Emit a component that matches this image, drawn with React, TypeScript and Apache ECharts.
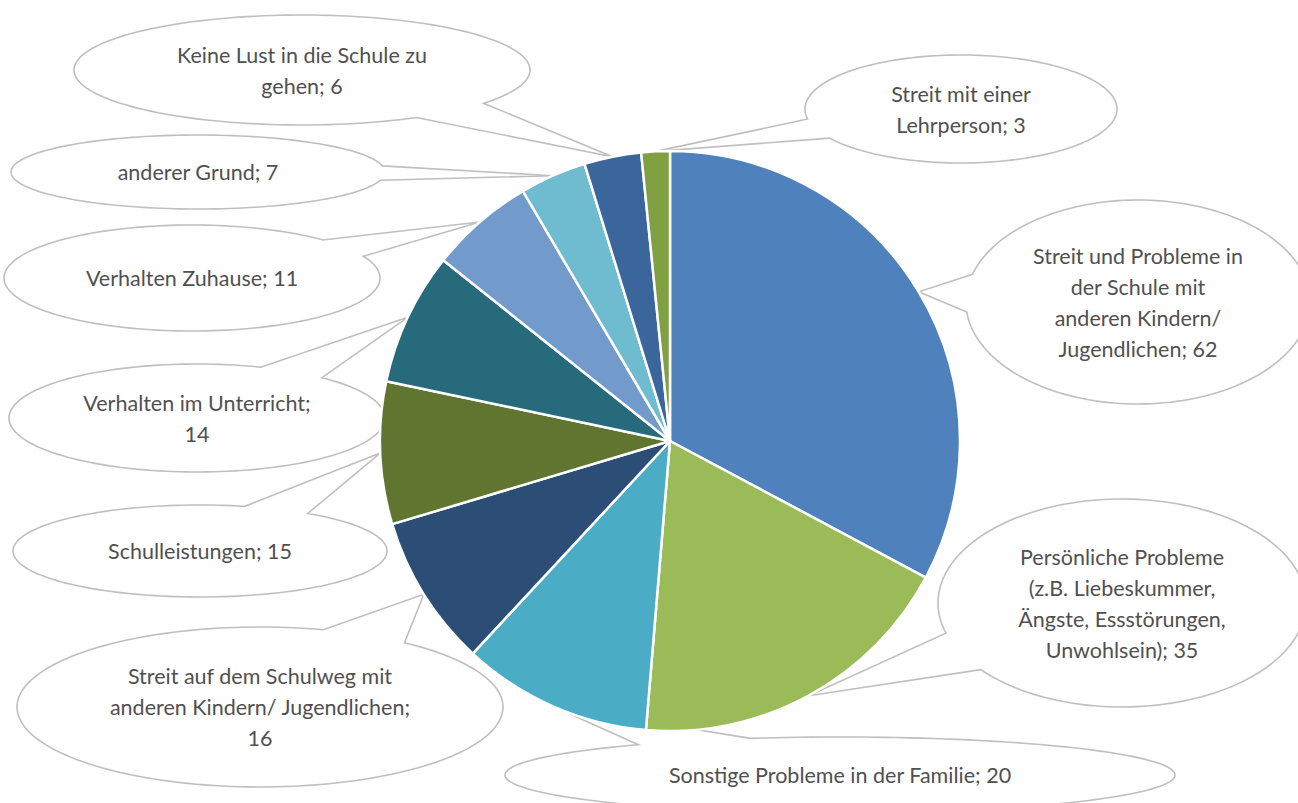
import React, { useEffect, useRef } from "react";
import * as echarts from "echarts";

// ---- data ----
const categories = [
  "Streit und Probleme in der Schule mit anderen Kindern/ Jugendlichen",
  "Persönliche Probleme (z.B. Liebeskummer, Ängste, Essstörungen, Unwohlsein)",
  "Sonstige Probleme in der Familie",
  "Streit auf dem Schulweg mit anderen Kindern/ Jugendlichen",
  "Schulleistungen",
  "Verhalten im Unterricht",
  "Verhalten Zuhause",
  "anderer Grund",
  "Keine Lust in die Schule zu gehen",
  "Streit mit einer Lehrperson",
];
const values = [62, 35, 20, 16, 15, 14, 11, 7, 6, 3];
const colors = [
  "#4F81BD", "#9BBB59", "#4BACC6", "#2C4D75", "#5F7530",
  "#276A7C", "#729ACA", "#6FBBD0", "#3A669B", "#80A042",
];
// wrapped label text (same words as categories, with line breaks as in the picture)
const wrappedNames = [
  "Streit und Probleme in\nder Schule mit\nanderen Kindern/\nJugendlichen",
  "Persönliche Probleme\n(z.B. Liebeskummer,\nÄngste, Essstörungen,\nUnwohlsein)",
  "Sonstige Probleme in der Familie",
  "Streit auf dem Schulweg mit\nanderen Kindern/ Jugendlichen",
  "Schulleistungen",
  "Verhalten im Unterricht",
  "Verhalten Zuhause",
  "anderer Grund",
  "Keine Lust in die Schule zu\ngehen",
  "Streit mit einer\nLehrperson",
];
const separators = ["; ", "; ", "; ", ";\n", "; ", ";\n", "; ", "; ", "; ", "; "];

// ---- layout (callout bubbles) ----
const PIE_CX = 670;
const PIE_CY = 441;
const PIE_R = 290;
const bubbles = [
  { cx: 1138, cy: 302, rx: 172, ry: 102, b1: [971, 274], b2: [967, 312] },
  { cx: 1122, cy: 603, rx: 184, ry: 104, b1: [947, 633], b2: [982, 669] },
  { cx: 840, cy: 775, rx: 335, ry: 38, b1: [747, 737], b2: [634, 744] },
  { cx: 260, cy: 707, rx: 243, ry: 80, b1: [324, 629], b2: [406, 642] },
  { cx: 200, cy: 551, rx: 187, ry: 46, b1: [245, 506], b2: [309, 513] },
  { cx: 197, cy: 418, rx: 188, ry: 54, b1: [261, 367], b2: [324, 377] },
  { cx: 192, cy: 278, rx: 188, ry: 53, b1: [326, 239], b2: [365, 256] },
  { cx: 198, cy: 172, rx: 187, ry: 37, b1: [378, 166], b2: [375, 180] },
  { cx: 302, cy: 70, rx: 228, ry: 55, b1: [482, 103], b2: [415, 117] },
  { cx: 961, cy: 109, rx: 156, ry: 54, b1: [808, 119], b2: [830, 138] },
];

function calloutPoints(i: number, total: number, cumBefore: number) {
  const b = bubbles[i];
  const f = (cumBefore + values[i] / 2) / total;
  const th = f * Math.PI * 2;
  const tip = [PIE_CX + PIE_R * Math.sin(th), PIE_CY - PIE_R * Math.cos(th)];
  const t1 = Math.atan2((b.b1[1] - b.cy) / b.ry, (b.b1[0] - b.cx) / b.rx);
  const t2 = Math.atan2((b.b2[1] - b.cy) / b.ry, (b.b2[0] - b.cx) / b.rx);
  let d = t2 - t1;
  while (d > Math.PI) d -= Math.PI * 2;
  while (d <= -Math.PI) d += Math.PI * 2;
  let start: number, end: number;
  if (d > 0) {
    start = t1 + d;
    end = t1 + Math.PI * 2;
  } else {
    start = t1;
    end = t1 + d + Math.PI * 2;
  }
  const pts: number[][] = [];
  const n = 160;
  for (let k = 0; k <= n; k++) {
    const t = start + ((end - start) * k) / n;
    pts.push([b.cx + b.rx * Math.cos(t), b.cy + b.ry * Math.sin(t)]);
  }
  pts.push(tip);
  return pts;
}

export default function App() {
  const ref = useRef<HTMLDivElement>(null);
  useEffect(() => {
    if (!ref.current) return;
    const chart = echarts.init(ref.current, undefined, { renderer: "svg" });
    const total = values.reduce((a, b) => a + b, 0);
    let cum = 0;
    const graphics: any[] = [];
    values.forEach((v, i) => {
      graphics.push({
        type: "polygon",
        z: 0,
        shape: { points: calloutPoints(i, total, cum) },
        style: { fill: "#ffffff", stroke: "#BFBFBF", lineWidth: 1.6 },
      });
      cum += v;
    });
    chart.setOption({
      animation: false,
      backgroundColor: "#ffffff",
      graphic: graphics,
      series: [
        {
          type: "pie",
          center: [PIE_CX, PIE_CY],
          radius: PIE_R,
          startAngle: 90,
          clockwise: true,
          avoidLabelOverlap: false,
          z: 2,
          itemStyle: { borderColor: "#ffffff", borderWidth: 2.5 },
          label: {
            show: true,
            position: "inside",
            color: "#505050",
            fontFamily: "Lato, 'Noto Sans', sans-serif",
            fontSize: 21.5,
            lineHeight: 31,
            align: "center",
            overflow: "none",
            formatter: (p: any) =>
              wrappedNames[p.dataIndex] + separators[p.dataIndex] + p.value,
          },
          labelLine: { show: false },
          labelLayout: (p: any) => ({
            x: bubbles[p.dataIndex].cx,
            y: bubbles[p.dataIndex].cy,
            align: "center",
            verticalAlign: "middle",
          }),
          emphasis: { disabled: true },
          data: categories.map((c, i) => ({
            name: c,
            value: values[i],
            itemStyle: { color: colors[i] },
          })),
        },
      ],
    });
    return () => chart.dispose();
  }, []);
  return (
    <div
      ref={ref}
      style={{ position: "fixed", left: 0, top: 0, width: 1298, height: 803 }}
    />
  );
}
